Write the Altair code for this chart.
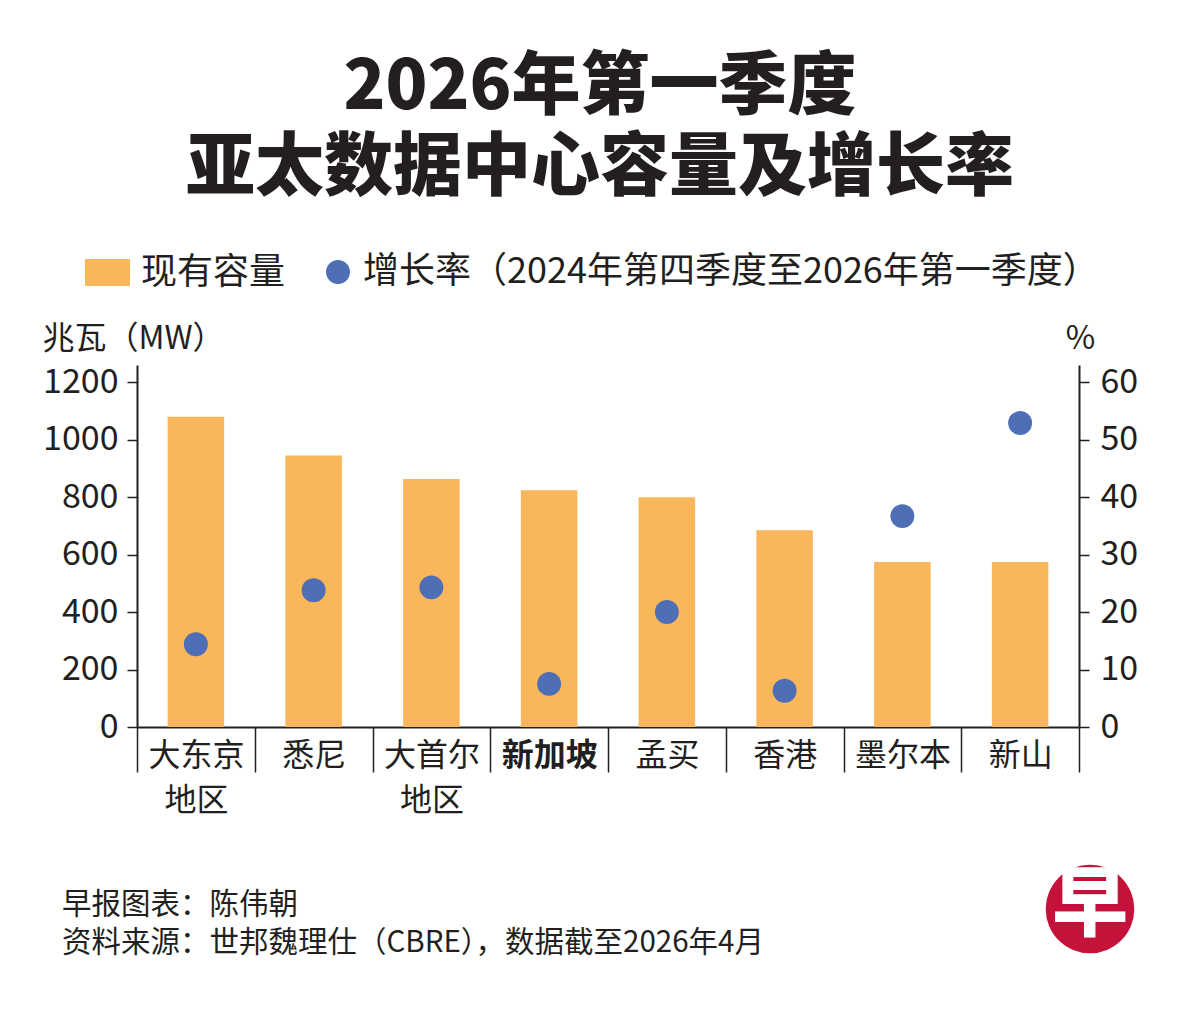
import altair as alt
import pandas as pd

# ---- data ----
categories = ["大东京\n地区", "悉尼", "大首尔\n地区", "新加坡", "孟买", "香港", "墨尔本", "新山"]
capacity_mw = [1080, 945, 863, 824, 800, 685, 574, 574]
growth_pct = [14.4, 23.8, 24.3, 7.5, 20.0, 6.3, 36.7, 52.9]
left_ticks = [0, 200, 400, 600, 800, 1000, 1200]
right_ticks = [0, 10, 20, 30, 40, 50, 60]

bar_label = "现有容量"
dot_label = "增长率（2024年第四季度至2026年第一季度）"
left_title = "兆瓦（MW）"
right_title = "%"
title_line1 = "2026年第一季度"
title_line2 = "亚太数据中心容量及增长率"
footer_lines = ["早报图表：陈伟朝", "资料来源：世邦魏理仕（CBRE），数据截至2026年4月"]

df = pd.DataFrame({"city": categories, "cap": capacity_mw, "growth": growth_pct})

FONT = "Noto Sans CJK SC"
INK = "#231f20"
BAR = "#F9B65A"
DOT = "#4E6FB5"
RED = "#C4123A"

W, H = 942, 362

axis_common = dict(
    labelFont=FONT,
    titleFont=FONT,
    labelColor=INK,
    tickColor=INK,
    domainColor=INK,
    domainWidth=2,
    tickWidth=1.5,
)

x_enc = alt.X(
    "city:N",
    sort=categories,
    scale=alt.Scale(paddingInner=0, paddingOuter=0),
    axis=alt.Axis(
        title=None,
        labelAngle=0,
        tickBand="extent",
        tickSize=45,
        labelPadding=-32,
        labelFontSize=32,
        labelLineHeight=45,
        labelBaseline="top",
        labelExpr="split(datum.label, '\\n')",
        labelFontWeight={"condition": {"test": "datum.value === '新加坡'", "value": 700}, "value": 400},
        **axis_common,
    ),
)

bars = (
    alt.Chart(df)
    .transform_calculate(series=f"'{bar_label}'")
    .mark_bar(width=alt.RelativeBandSize(0.48))
    .encode(
        x=x_enc,
        y=alt.Y(
            "cap:Q",
            scale=alt.Scale(domain=[0, 1260], nice=False),
            axis=alt.Axis(
                values=left_ticks,
                format="d",
                grid=False,
                title=left_title,
                titleAngle=0,
                titleAlign="left",
                titleBaseline="middle",
                titleX=-95,
                titleY=-27,
                titleFontSize=32,
                titleFontWeight=400,
                titleColor=INK,
                labelFontSize=34,
                labelPadding=9,
                tickSize=10,
                **axis_common,
            ),
        ),
        fill=alt.Fill(
            "series:N",
            scale=alt.Scale(domain=[bar_label], range=[BAR]),
            legend=alt.Legend(
                title=None,
                orient="none",
                legendX=-52,
                legendY=-115,
                symbolType="M-1,-0.6L1,-0.6L1,0.6L-1,0.6Z",
                symbolSize=2025,
                symbolStrokeWidth=0,
                labelFont=FONT,
                labelFontSize=36,
                labelColor=INK,
                labelOffset=11,
                padding=0,
            ),
        ),
    )
)

dots = (
    alt.Chart(df)
    .transform_calculate(series=f"'{dot_label}'")
    .mark_circle(size=573, opacity=1)
    .encode(
        x=alt.X("city:N", sort=categories),
        y=alt.Y(
            "growth:Q",
            scale=alt.Scale(domain=[0, 63], nice=False),
            axis=alt.Axis(
                orient="right",
                values=right_ticks,
                format="d",
                grid=False,
                title=right_title,
                titleAngle=0,
                titleAlign="center",
                titleBaseline="middle",
                titleX=1,
                titleY=-27,
                titleFontSize=32,
                titleFontWeight=400,
                titleColor=INK,
                labelFontSize=34,
                labelPadding=11,
                tickSize=10,
                **axis_common,
            ),
        ),
        color=alt.Color(
            "series:N",
            scale=alt.Scale(domain=[dot_label], range=[DOT]),
            legend=alt.Legend(
                title=None,
                orient="none",
                legendX=183,
                legendY=-111,
                symbolType="circle",
                symbolSize=573,
                symbolStrokeWidth=0,
                symbolOpacity=1,
                labelFont=FONT,
                labelFontSize=36,
                labelColor=INK,
                labelOffset=7,
                labelLimit=1000,
                padding=0,
            ),
        ),
    )
)

one = alt.Data(values=[{"k": 1}])

footer = alt.Chart(one).mark_text(
    align="left", baseline="middle", fontSize=29.5, lineHeight=38, color=INK, font=FONT
).encode(x=alt.value(-75), y=alt.value(540), text=alt.value(footer_lines))

logo_disc = alt.Chart(one).mark_circle(size=7850, opacity=1, color=RED).encode(
    x=alt.value(953), y=alt.value(544)
)
logo_char = alt.Chart(one).mark_text(
    align="center", baseline="middle", fontSize=76, fontWeight=900, color="white", font=FONT
).encode(x=alt.value(953), y=alt.value(542), text=alt.value("早"))

chart = (
    alt.layer(bars, dots, footer, logo_disc, logo_char)
    .resolve_scale(y="independent")
    .properties(
        width=W,
        height=H,
        autosize=alt.AutoSizeParams(type="none"),
        padding={"left": 129, "top": 357, "right": 113, "bottom": 285},
        title=alt.TitleParams(
            text=title_line1,
            subtitle=title_line2,
            fontSize=69,
            subtitleFontSize=69,
            fontWeight=900,
            subtitleFontWeight=900,
            color=INK,
            subtitleColor=INK,
            font=FONT,
            subtitleFont=FONT,
            subtitlePadding=12,
            anchor="middle",
            dx=-8,
            offset=46,
        ),
    )
    .configure(background="white", font=FONT)
    .configure_view(stroke="transparent", strokeWidth=0)
)

chart.save("out.html", embed_options={"renderer": "svg", "actions": False})
